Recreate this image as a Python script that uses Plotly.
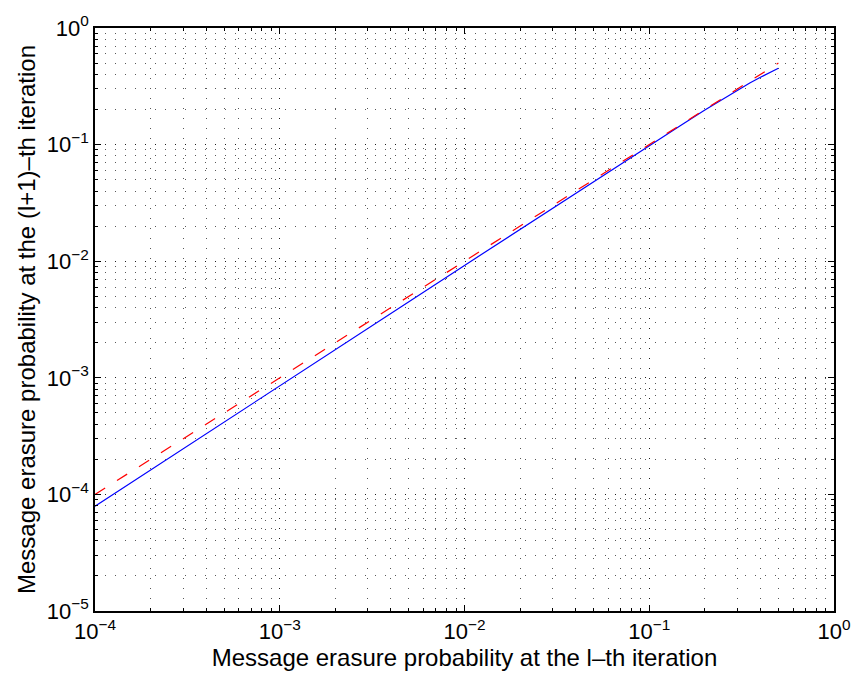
import plotly.graph_objects as go

# Data
x_blue = [1e-4, 2e-4, 5e-4, 1e-3, 2e-3, 5e-3, 1e-2, 2e-2, 5e-2, 0.1, 0.15, 0.2, 0.25, 0.3, 0.35, 0.4, 0.45, 0.5]
y_blue = [7.9e-5, 1.62e-4, 4.2e-4, 8.6e-4, 1.77e-3, 4.5e-3, 9.2e-3, 1.88e-2, 4.8e-2, 0.098, 0.148, 0.198, 0.246, 0.292, 0.337, 0.378, 0.418, 0.452]
x_red = [1e-4, 0.5]
y_red = [1e-4, 0.5]

xtick_vals = [1e-4, 1e-3, 1e-2, 1e-1, 1e0]
xtick_text = ["10<sup>−4</sup>", "10<sup>−3</sup>", "10<sup>−2</sup>", "10<sup>−1</sup>", "10<sup>0</sup>"]
ytick_vals = [1e-5, 1e-4, 1e-3, 1e-2, 1e-1, 1e0]
ytick_text = ["10<sup>−5</sup>", "10<sup>−4</sup>", "10<sup>−3</sup>", "10<sup>−2</sup>", "10<sup>−1</sup>", "10<sup>0</sup>"]

x_title = "Message erasure probability at the l–th iteration"
y_title = "Message erasure probability at the (l+1)–th iteration"

FONT = "Liberation Sans"
GRID = "rgba(0,0,0,0.65)"

fig = go.Figure()
fig.add_trace(go.Scatter(x=x_blue, y=y_blue, mode="lines",
                         line=dict(color="#0000ff", width=1.2), showlegend=False))
fig.add_trace(go.Scatter(x=x_red, y=y_red, mode="lines",
                         line=dict(color="#ff0000", width=1.2, dash="12px,14px"), showlegend=False))

axis_common = dict(
    type="log",
    showline=True, linecolor="black", linewidth=1.5, mirror="ticks",
    ticks="inside", ticklen=6, tickcolor="black", tickwidth=1,
    showgrid=True, gridcolor=GRID, gridwidth=1, griddash="1px,9px",
    zeroline=False,
    tickfont=dict(family=FONT, size=22, color="black"),
    minor=dict(dtick="D1", ticks="inside", ticklen=3, tickcolor="black",
               showgrid=True, gridcolor=GRID, gridwidth=1, griddash="1px,9px"),
)

fig.update_xaxes(**axis_common, range=[-4, 0], tickvals=xtick_vals, ticktext=xtick_text,
                 title=dict(text=x_title, font=dict(family=FONT, size=24, color="black"), standoff=4))
fig.update_yaxes(**axis_common, range=[-5, 0], tickvals=ytick_vals, ticktext=ytick_text,
                 title=dict(text=y_title, font=dict(family=FONT, size=24, color="black"), standoff=4))

fig.update_layout(
    width=863, height=686,
    margin=dict(l=95, r=22, t=23, b=75),
    plot_bgcolor="white", paper_bgcolor="white",
)

fig.write_html("out.html")
